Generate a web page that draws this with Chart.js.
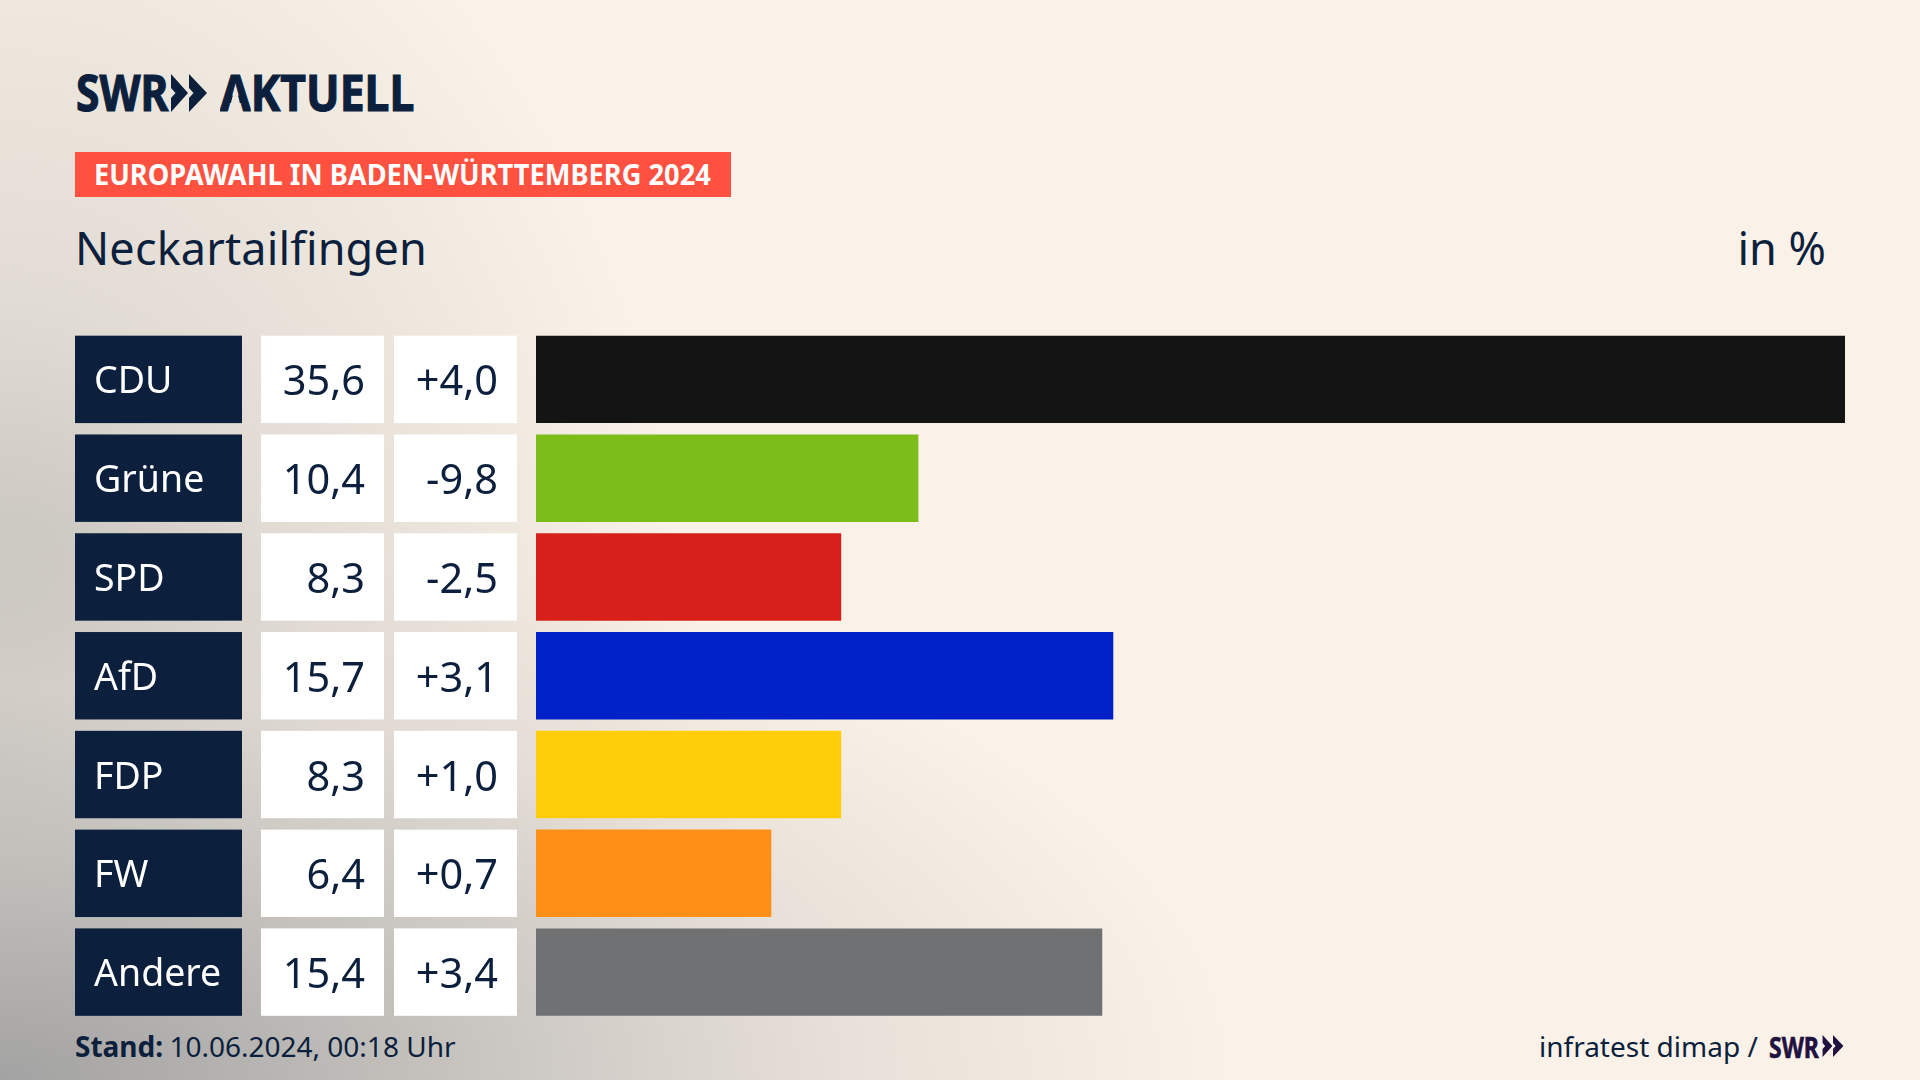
<!DOCTYPE html>
<html lang="de">
<head>
<meta charset="utf-8">
<title>Europawahl Neckartailfingen</title>
<script src="https://cdn.jsdelivr.net/npm/chart.js@4/dist/chart.umd.min.js"></script>
<style>
  html, body { margin: 0; padding: 0; }
  body {
    width: 1920px; height: 1080px; overflow: hidden; position: relative;
    font-family: "Noto Sans", sans-serif; color: #0c1f3d;
    background:
      radial-gradient(ellipse 1230px 560px at 0 100%, rgba(160,160,160,.95) 0%, rgba(195,192,188,.85) 40%, rgba(222,216,209,.65) 70%, rgba(250,242,232,0) 100%),
      radial-gradient(ellipse 700px 1000px at 0 70%, rgba(175,174,170,.9) 0%, rgba(208,204,198,.6) 45%, rgba(250,242,232,0) 100%),
      #faf2e8;
  }
  canvas { position: absolute; left: 0; top: 0; }
  .t { position: absolute; white-space: nowrap; line-height: 1; transform-origin: 0 0; }
  .logo { font-weight: 700; -webkit-text-stroke: 1.2px currentColor; }
  .lambda { display: inline-block; clip-path: polygon(0 0, 100% 0, 100% 100%, 76% 100%, 50% 36%, 24% 100%, 0 100%); }
  #badge { position: absolute; left: 75px; top: 152px; width: 656px; height: 45px; background: #ff5140; }
  svg { position: absolute; }
</style>
</head>
<body>
<div class="t logo" style="left:76px;top:67px;font-size:50px;transform:scaleX(.85)">SWR</div>
<svg style="left:171px;top:74px" width="36" height="38" viewBox="0 0 36 38"><path fill="#0c1f3d" d="M0 0 L17 19 L0 38 L0 24 L4.5 19 L0 14 Z M18 0 L36 19 L18 38 L18 24 L22.5 19 L18 14 Z"/></svg>
<div class="t logo" style="left:220px;top:67px;font-size:50px;transform:scaleX(.89)"><span class="lambda">A</span>KTUELL</div>
<div id="badge"></div>
<div class="t" style="left:94px;top:160px;font-size:28px;font-weight:700;color:#fff;transform:scaleX(.973)">EUROPAWAHL IN BADEN-WÜRTTEMBERG 2024</div>
<div class="t" style="left:75px;top:225px;font-size:45px;letter-spacing:.15px">Neckartailfingen</div>
<div class="t" style="right:94px;top:225px;font-size:45px;">in %</div>
<div class="t" style="left:75px;top:1032px;font-size:28px"><b>Stand:</b> <span style="margin-left:-1px">10.06.2024, 00:18 Uhr</span></div>
<div class="t" style="left:1539px;top:1032px;font-size:28px">infratest dimap /</div>
<div class="t logo" style="left:1769px;top:1033px;font-size:28px;color:#1f1140;transform:scaleX(.82);-webkit-text-stroke-width:.6px">SWR</div>
<svg style="left:1822px;top:1035px" width="22" height="22" viewBox="0 0 36 38"><path fill="#1f1140" d="M0 0 L17 19 L0 38 L0 24 L4.5 19 L0 14 Z M18 0 L36 19 L18 38 L18 24 L22.5 19 L18 14 Z"/></svg>
<canvas id="chart" width="1920" height="1080"></canvas>
<script>
const parties = ['CDU', 'Grüne', 'SPD', 'AfD', 'FDP', 'FW', 'Andere'];
const shares = [35.6, 10.4, 8.3, 15.7, 8.3, 6.4, 15.4];
const changes = [4.0, -9.8, -2.5, 3.1, 1.0, 0.7, 3.4];
const partyColors = ['#141414', '#7cbd1a', '#d7201c', '#0020c8', '#ffcd0a', '#ff8f16', '#707173'];

const fmt = v => v.toLocaleString('de-DE', { minimumFractionDigits: 1, maximumFractionDigits: 1 });
const fmtChange = v => (v > 0 ? '+' : '') + fmt(v);

// name and value cells left of the bars, same row positions as the bars
const rowCells = {
  id: 'rowCells',
  afterDatasetsDraw(chart) {
    const ctx = chart.ctx;
    const bars = chart.getDatasetMeta(0).data;
    ctx.save();
    ctx.textBaseline = 'alphabetic';
    bars.forEach((bar, i) => {
      const top = bar.y - bar.height / 2;
      ctx.fillStyle = '#0c1f3d';
      ctx.fillRect(75, top, 167, bar.height);
      ctx.fillStyle = '#ffffff';
      ctx.fillRect(261, top, 123, bar.height);
      ctx.fillRect(394, top, 123, bar.height);

      ctx.fillStyle = '#ffffff';
      ctx.textAlign = 'left';
      ctx.font = '37.5px "Noto Sans"';
      ctx.fillText(parties[i], 94, bar.y + 14);

      ctx.fillStyle = '#0c1f3d';
      ctx.textAlign = 'right';
      ctx.font = '41.5px "Noto Sans"';
      ctx.fillText(fmt(shares[i]), 365, bar.y + 16);
      ctx.fillText(fmtChange(changes[i]), 498, bar.y + 16);
    });
    ctx.restore();
  }
};

new Chart(document.getElementById('chart'), {
  type: 'bar',
  data: {
    labels: parties,
    datasets: [{
      data: shares,
      backgroundColor: partyColors,
      barPercentage: 0.885,
      categoryPercentage: 1
    }]
  },
  options: {
    indexAxis: 'y',
    responsive: false,
    animation: false,
    layout: { padding: { left: 536, right: 75, top: 330, bottom: 58.5 } },
    plugins: { legend: { display: false }, tooltip: { enabled: false } },
    scales: {
      x: { display: false, min: 0, max: 35.6 },
      y: { display: false }
    }
  },
  plugins: [rowCells]
});
</script>
</body>
</html>
